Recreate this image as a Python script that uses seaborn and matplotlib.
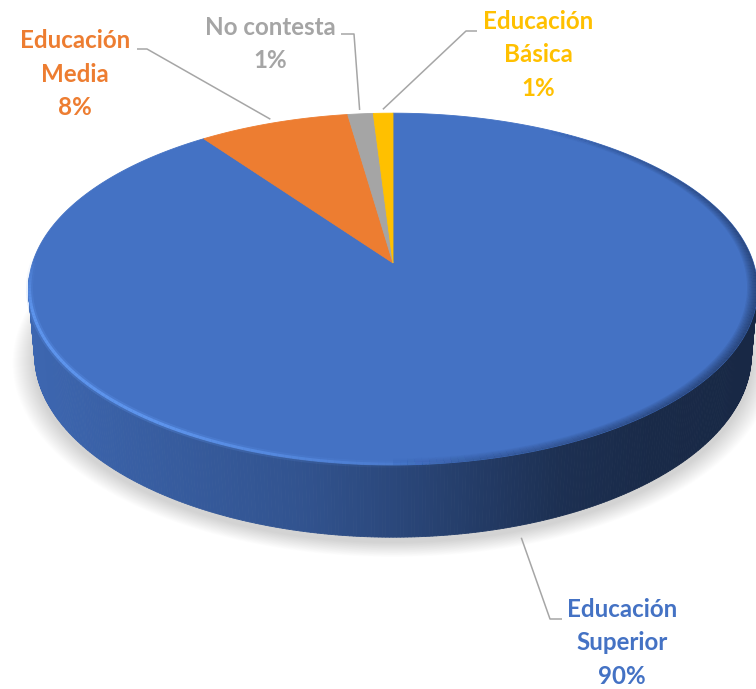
import numpy as np
import matplotlib
matplotlib.use("Agg")
import matplotlib.pyplot as plt
from matplotlib.collections import PolyCollection, LineCollection
from matplotlib.colors import to_rgb
import seaborn as sns

# ---- data -------------------------------------------------------------
categories = ["Educación\nSuperior", "Educación\nMedia", "No contesta", "Educación\nBásica"]
shares = [90.0, 7.7, 1.3, 1.0]            # percent of respondents
slice_colors = ["#4472C4", "#ED7D31", "#A5A5A5", "#FFC000"]

# ---- layout -----------------------------------------------------------
label_pos = [(622, 643), (75, 74), (270, 44), (538, 55)]
leader_start = [(562, 619), (137, 49), (341, 34), (477, 31)]
leader_elbow = [(550, 619), (147, 49), (354, 34), (466, 31)]

TILT = np.radians(28.5)   # elevation of the view
DIST = 5.94               # camera distance (in pie radii)
SCALE = 360.5             # pixels per radius at the centre
APEX = (393.0, 263.0)     # projected centre of the top face
THICK = 0.209             # pie thickness (in radii)

sns.set_theme(style="white")
plt.rcParams["font.family"] = ["Lato", "DejaVu Sans"]

fig = plt.figure(figsize=(7.56, 6.89), dpi=100)
ax = fig.add_axes([0, 0, 1, 1])
ax.set_xlim(0, 756)
ax.set_ylim(689, 0)
ax.axis("off")


def project(X, Y, Z=0.0):
    c, s = np.cos(TILT), np.sin(TILT)
    w = DIST + Y * c - Z * s
    v = Y * s + Z * c
    return APEX[0] + SCALE * DIST * X / w, APEX[1] - SCALE * DIST * v / w


def rim(theta_deg, r=1.0, Z=0.0):
    t = np.radians(theta_deg)
    return project(r * np.sin(t), r * np.cos(t), Z)


total = sum(shares)
edges = np.concatenate([[0.0], np.cumsum(shares)]) / total * 360.0
mids = (edges[:-1] + edges[1:]) / 2


def slice_of(theta):
    return int(np.clip(np.searchsorted(edges, theta % 360.0, side="right") - 1, 0, len(shares) - 1))


# ---- soft floor shadow -----------------------------------------------
th_all = np.linspace(0, 360, 721)
n_sh = 22
for i in range(n_sh):
    e = 1.0 + 0.06 * (i + 1) / n_sh
    px, py = rim(th_all, e, -THICK)
    ax.fill(px, py + 5, color="#000000", alpha=0.009, lw=0, zorder=1)

# ---- side wall with lighting -----------------------------------------
shade_x = [28, 150, 300, 393, 480, 560, 650, 756]
shade_f = [0.90, 0.82, 0.73, 0.63, 0.52, 0.42, 0.37, 0.35]
side_th = np.arange(94.0, 266.01, 0.5)
polys, cols = [], []
for a0, a1 in zip(side_th[:-1], side_th[1:]):
    x0t, y0t = rim(a0)
    x1t, y1t = rim(a1)
    x0b, y0b = rim(a0, 1.0, -THICK)
    x1b, y1b = rim(a1, 1.0, -THICK)
    polys.append([(x0t, y0t), (x1t, y1t), (x1b, y1b), (x0b, y0b)])
    base = np.array(to_rgb(slice_colors[slice_of((a0 + a1) / 2)]))
    f = np.interp((x0t + x1t) / 2, shade_x, shade_f)
    cols.append(tuple(np.clip(base * f, 0, 1)))
ax.add_collection(PolyCollection(polys, facecolors=cols, edgecolors=cols,
                                 linewidths=0.6, zorder=2))

# ---- top face slices --------------------------------------------------
for k in range(len(shares)):
    th = np.linspace(edges[k], edges[k + 1], max(int((edges[k + 1] - edges[k]) * 2), 4))
    px, py = rim(th)
    xs = np.concatenate([[APEX[0]], px])
    ys = np.concatenate([[APEX[1]], py])
    ax.fill(xs, ys, facecolor=slice_colors[k], edgecolor=slice_colors[k],
            lw=0.6, zorder=3)

# ---- bevel: dark soft rim on the right, highlight on the front-left ---
bev_th = np.arange(30.0, 180.01, 1.0)
dark_polys, dark_cols = [], []
for k in range(8):
    r_in = 1.0 - 0.028 * (k + 1) / 8
    for a0, a1 in zip(bev_th[:-1], bev_th[1:]):
        am = (a0 + a1) / 2
        strength = np.clip(np.sin(np.radians((am - 30) / 150 * 180)), 0, 1) ** 0.7
        xo0, yo0 = rim(a0)
        xo1, yo1 = rim(a1)
        xi0, yi0 = rim(a0, r_in)
        xi1, yi1 = rim(a1, r_in)
        dark_polys.append([(xo0, yo0), (xo1, yo1), (xi1, yi1), (xi0, yi0)])
        dark_cols.append((0.10, 0.16, 0.29, 0.09 * strength))
ax.add_collection(PolyCollection(dark_polys, facecolors=dark_cols,
                                 edgecolors="none", zorder=4))

hi_th = np.arange(170.0, 272.01, 1.0)
hx, hy = rim(hi_th, 0.997)
segs = [[(hx[i], hy[i]), (hx[i + 1], hy[i + 1])] for i in range(len(hx) - 1)]
hcols = []
for i in range(len(hx) - 1):
    am = (hi_th[i] + hi_th[i + 1]) / 2
    a = np.clip((am - 170) / 45, 0, 1) * np.clip((272 - am) / 18, 0, 1)
    hcols.append((0.38, 0.60, 0.95, 0.85 * a))
ax.add_collection(LineCollection(segs, colors=hcols, linewidths=2.2, zorder=5))
glow = [(c[0], c[1], c[2], c[3] * 0.3) for c in hcols]
ax.add_collection(LineCollection(segs, colors=glow, linewidths=5, zorder=4))

# ---- labels and leader lines -----------------------------------------
for k, name in enumerate(categories):
    pct = f"{shares[k] / total:.0%}"
    ax.text(label_pos[k][0], label_pos[k][1], f"{name}\n{pct}",
            ha="center", va="center", color=slice_colors[k], fontsize=17.4,
            fontweight="bold", linespacing=1.55, zorder=6)
    if np.cos(np.radians(mids[k])) < 0:
        ax_, ay_ = rim(mids[k], 1.01, -THICK - 0.03)
    else:
        ax_, ay_ = rim(mids[k], 1.03)
    ax.plot([leader_start[k][0], leader_elbow[k][0], ax_],
            [leader_start[k][1], leader_elbow[k][1], ay_],
            color="#A6A6A6", lw=1.1, zorder=6, solid_capstyle="butt")

fig.savefig("out.png", dpi=100)
